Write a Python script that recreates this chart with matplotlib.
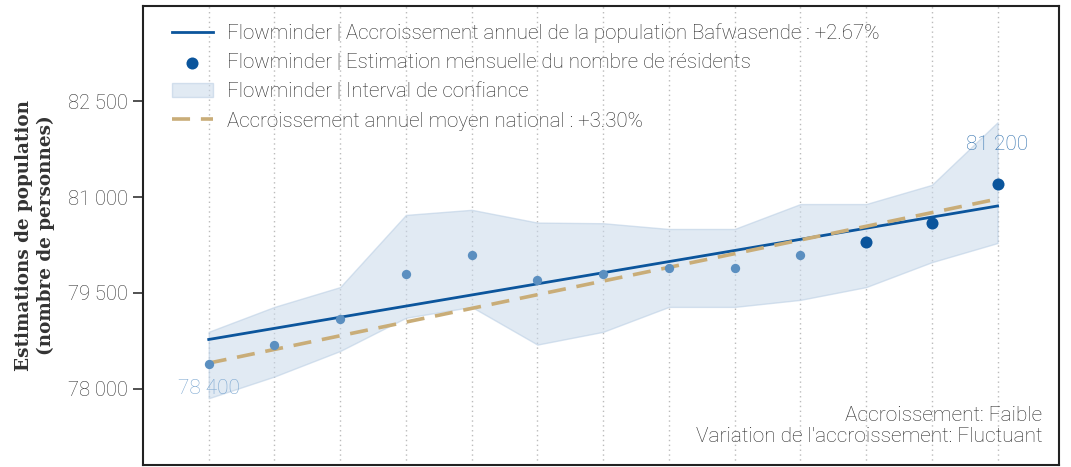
import numpy as np
import matplotlib.pyplot as plt
from matplotlib.ticker import FuncFormatter

# Monthly estimates (13 months)
months = list(range(13))
estimates = [78390, 78690, 79090, 79800, 80090, 79700, 79800, 79890, 79890, 80090, 80290, 80590, 81200]
ci_lower = [77850, 78190, 78590, 79110, 79280, 78690, 78890, 79280, 79280, 79390, 79590, 79980, 80280]
ci_upper = [78890, 79280, 79590, 80720, 80800, 80600, 80590, 80500, 80500, 80890, 80890, 81190, 82170]
trend = [78770, 80860]        # Flowminder trend, first and last month
national = [78400, 80970]     # national average trend
recent = [10, 11, 12]         # highlighted recent months

yticks = [78000, 79500, 81000, 82500]

BLUE = '#0b559c'
LIGHT = '#5b8fc0'
TAN = '#c9ad78'

plt.rcParams['font.family'] = ['Roboto', 'DejaVu Sans']
plt.rcParams['font.weight'] = 'light'

fig = plt.figure(figsize=(10.71, 4.67), dpi=100)
ax = fig.add_axes([0.1335, 0.005, 0.855, 0.982])

ax.fill_between(months, ci_lower, ci_upper, color='#c9d9ea', alpha=0.55,
                edgecolor='#b8cde3', linewidth=1, label='Flowminder | Interval de confiance')
ax.plot([months[0], months[-1]], trend, color=BLUE, lw=2,
        label='Flowminder | Accroissement annuel de la population Bafwasende : +2.67%')
ax.plot([months[0], months[-1]], national, color=TAN, lw=2.6, ls=(0, (5, 3)),
        label='Accroissement annuel moyen national : +3.30%')

old = [m for m in months if m not in recent]
ax.scatter(old, [estimates[m] for m in old], s=45, color=LIGHT, zorder=4, linewidths=0)
ax.scatter(recent, [estimates[m] for m in recent], s=75, color=BLUE, zorder=4, linewidths=0,
           label='Flowminder | Estimation mensuelle du nombre de résidents')

ax.text(months[0], estimates[0] - 380, '78 400', color='#7aa6d0', fontsize=15,
        ha='center', va='center')
ax.text(months[-1], estimates[-1] + 620, '81 200', color='#3574b0', fontsize=15,
        ha='center', va='center')
ax.text(0.982, 0.04, "Accroissement: Faible\nVariation de l'accroissement: Fluctuant",
        transform=ax.transAxes, ha='right', va='bottom', fontsize=15,
        color='#2a2a2a', linespacing=1.15)

ax.set_xlim(-1, 12.93)
ax.set_ylim(76810, 83990)
ax.set_yticks(yticks)
ax.yaxis.set_major_formatter(FuncFormatter(lambda v, p: f'{int(v):,}'.replace(',', ' ')))
ax.tick_params(axis='y', labelsize=14.5, labelcolor='#333333', length=7, width=1.2,
               color='#333333', pad=4)
ax.set_xticks(months)
ax.tick_params(axis='x', labelbottom=False, length=0)
ax.grid(axis='x', color='#bbbbbb', ls=(0, (1, 2.5)), lw=1)
ax.set_axisbelow(True)
for s in ax.spines.values():
    s.set_color('#222222')
    s.set_linewidth(1.5)

ax.set_ylabel('Estimations de population\n(nombre de personnes)', family='DejaVu Serif',
              fontsize=13.2, fontweight='bold', color='#333333', labelpad=9, linespacing=1.25)

handles, labels = ax.get_legend_handles_labels()
order = [1, 3, 0, 2]
leg = ax.legend([handles[i] for i in order], [labels[i] for i in order], loc='upper left',
                frameon=False, fontsize=14.8, labelspacing=0.5, handlelength=2.0,
                handletextpad=0.7, bbox_to_anchor=(0.009, 1.008), borderaxespad=0.6)
for t in leg.get_texts():
    t.set_color('#2a2a2a')

fig.savefig('out.png', dpi=100)
